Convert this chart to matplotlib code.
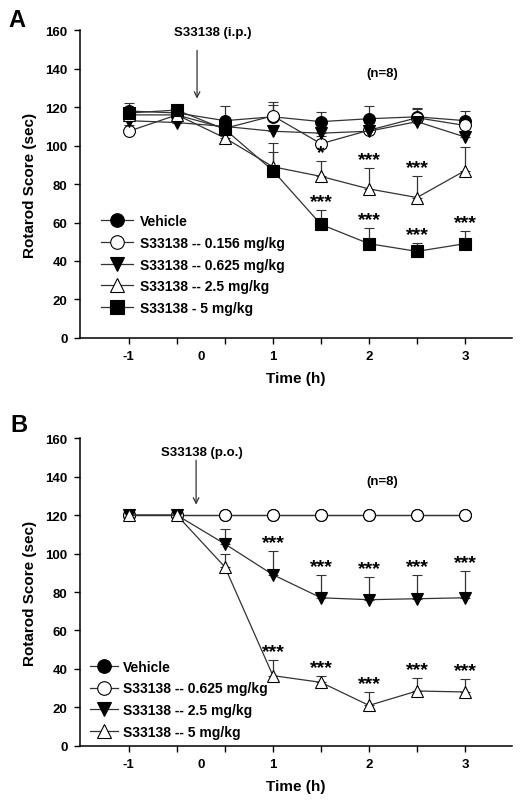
import numpy as np
import matplotlib.pyplot as plt

plt.rcParams["font.family"] = ["Liberation Sans", "DejaVu Sans"]
plt.rcParams["font.weight"] = "bold"

# time points are plotted at equal spacing (index positions)
time_idx = np.arange(8)
tick_labels = ["-1", "", "", "1", "", "2", "", "3"]

# ---- panel A (i.p.) ----
a_labels = ["Vehicle", "S33138 -- 0.156 mg/kg", "S33138 -- 0.625 mg/kg",
            "S33138 -- 2.5 mg/kg", "S33138 - 5 mg/kg"]
a_vehicle = [118, 117, 113, 115, 112.5, 114, 115, 113]
a_vehicle_err = [4, 3, 7.5, 6, 5, 6.5, 4, 5]
a_low = [107.5, 116, 109, 115.5, 101, 108, 114.5, 110.5]
a_low_err = [3, 2, 4, 7, 4, 4, 5, 4]
a_mid = [113, 112, 110, 107.5, 106.5, 107.5, 112.5, 104.5]
a_mid_err = [2, 2, 3, 3, 3, 3, 3, 3]
a_high = [116, 116, 104, 89, 84, 77.5, 73, 87]
a_high_err = [2, 2, 3, 12.5, 8, 11, 11, 12.5]
a_top = [117, 118.5, 108.5, 87, 59, 49, 45, 49]
a_top_err = [2, 2, 4, 9.5, 7.5, 8, 4.5, 6.5]
a_star_high = ["", "", "", "", "*", "***", "***", ""]
a_star_top = ["", "", "", "", "***", "***", "***", "***"]

# ---- panel B (p.o.) ----
b_labels = ["Vehicle", "S33138 -- 0.625 mg/kg", "S33138 -- 2.5 mg/kg",
            "S33138 -- 5 mg/kg"]
b_vehicle = [120, 120, 120, 120, 120, 120, 120, 120]
b_low = [120, 120, 120, 120, 120, 120, 120, 120]
b_mid = [120, 120, 105, 89, 77, 76, 76.5, 77]
b_mid_err = [0, 0, 7.7, 12.5, 11.7, 11.6, 12.4, 13.8]
b_high = [120, 120, 93, 36.5, 33, 21, 28.5, 28]
b_high_err = [0, 0, 7, 8.2, 3.5, 7, 6.9, 6.6]
b_star_mid = ["", "", "", "***", "***", "***", "***", "***"]
b_star_high = ["", "", "", "***", "***", "***", "***", "***"]

line_col = "#333333"
ms = 8.5


def series(ax, y, err, marker, face, label):
    yerr = None if err is None else [np.zeros(len(err)), err]
    c = ax.errorbar(time_idx, y, yerr=yerr, color=line_col, lw=0.9,
                    elinewidth=0.9, capsize=3.5, capthick=0.9,
                    marker=marker, ms=ms, mfc=face, mec="black", mew=0.8)
    c[0].set_label(label)
    return c[0]


def stars(ax, y, err, marks):
    for x, v, e, s in zip(time_idx, y, err, marks):
        if s:
            ax.annotate(s, (x, v + e), xytext=(0, 0), textcoords="offset points",
                        ha="center", va="bottom", fontsize=14)


def style(ax):
    ax.set_xlim(-1.02, 7.98)
    ax.set_ylim(0, 160)
    ax.set_yticks(np.arange(0, 161, 20))
    ax.set_xticks(time_idx)
    ax.set_xticklabels(tick_labels)
    ax.set_xticks([1.5], minor=True)
    ax.set_xticklabels(["0"], minor=True)
    ax.tick_params(which="major", direction="out", length=4, width=1,
                   labelsize=9.5, pad=5)
    ax.tick_params(axis="x", which="minor", length=0, labelsize=9.5, pad=9)
    for s in ["top", "right"]:
        ax.spines[s].set_visible(False)
    for s in ["left", "bottom"]:
        ax.spines[s].set_linewidth(1.1)
    ax.set_xlabel("Time (h)", fontsize=11, fontweight="bold", labelpad=6)
    ax.set_ylabel("Rotarod Score (sec)", fontsize=11, fontweight="bold",
                  labelpad=6)
    ax.text(5.27, 138, "(n=8)", ha="center", va="center", fontsize=9.5)


fig = plt.figure(figsize=(5.29, 8.03), dpi=100)

axA = fig.add_axes([0.151, 0.578, 0.817, 0.383])
hA = [series(axA, a_vehicle, a_vehicle_err, "o", "black", a_labels[0]),
      series(axA, a_low, a_low_err, "o", "white", a_labels[1]),
      series(axA, a_mid, a_mid_err, "v", "black", a_labels[2]),
      series(axA, a_high, a_high_err, "^", "white", a_labels[3]),
      series(axA, a_top, a_top_err, "s", "black", a_labels[4])]
stars(axA, a_high, a_high_err, a_star_high)
stars(axA, a_top, a_top_err, a_star_top)
style(axA)
axA.annotate("", xy=(1.42, 123), xytext=(1.42, 151),
             arrowprops=dict(arrowstyle="->", color=line_col, lw=0.9))
axA.text(1.75, 159, "S33138 (i.p.)", ha="center", va="center", fontsize=9.5)
axA.legend(handles=hA, loc="lower left", bbox_to_anchor=(0.036, 0.057),
           frameon=False, fontsize=10, handlelength=2.3, handletextpad=0.5,
           labelspacing=0.55, markerscale=1.15, borderaxespad=0)
fig.text(0.015, 0.975, "A", fontsize=17, fontweight="bold", va="center")

axB = fig.add_axes([0.151, 0.07, 0.817, 0.383])
hB = [series(axB, b_vehicle, None, "o", "black", b_labels[0]),
      series(axB, b_low, None, "o", "white", b_labels[1]),
      series(axB, b_mid, b_mid_err, "v", "black", b_labels[2]),
      series(axB, b_high, b_high_err, "^", "white", b_labels[3])]
stars(axB, b_mid, b_mid_err, b_star_mid)
stars(axB, b_high, b_high_err, b_star_high)
style(axB)
axB.annotate("", xy=(1.4, 124), xytext=(1.4, 150),
             arrowprops=dict(arrowstyle="->", color=line_col, lw=0.9))
axB.text(1.52, 153, "S33138 (p.o.)", ha="center", va="center", fontsize=9.5)
axB.legend(handles=hB, loc="lower left", bbox_to_anchor=(0.01, 0.005),
           frameon=False, fontsize=10, handlelength=2.0, handletextpad=0.4,
           labelspacing=0.55, markerscale=1.15, borderaxespad=0)
fig.text(0.02, 0.47, "B", fontsize=17, fontweight="bold", va="center")

fig.savefig("out.png", dpi=100)
